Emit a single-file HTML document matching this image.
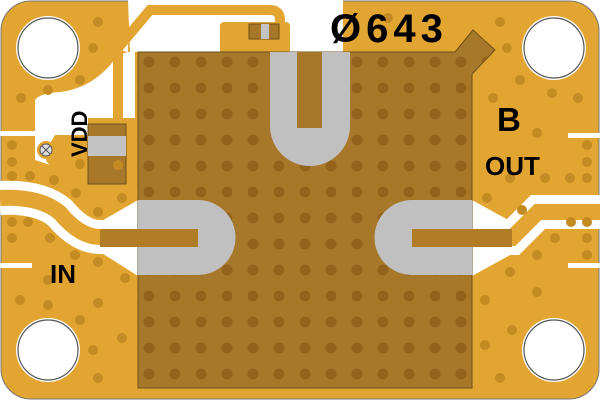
<!DOCTYPE html>
<html><head><style>body{margin:0;background:#fff}svg{display:block}</style></head><body>
<svg width="600" height="400" viewBox="0 0 600 400" xmlns="http://www.w3.org/2000/svg">
<defs>
<pattern id="v" x="135" y="50" width="26" height="26" patternUnits="userSpaceOnUse"><circle cx="14" cy="12" r="5.5" fill="#93621b"/></pattern>
</defs>
<rect x="1" y="1" width="598" height="398" rx="30" fill="#e2a532" stroke="#777" stroke-width="1"/>
<path d="M128 0 L343 0 L343 52 L130 52 Z" fill="#fff"/>
<path d="M128 0 L128 28 Q128 40 118 50 L128 52 Z" fill="#fff"/>
<path d="M35 100 Q40 93 60 92 Q95 88 118 55 L128 52 L135 52 L135 118 L88 118 L88 135 L55 135 Q40 160 50 165 L35 160 Z" fill="#fff"/>
<rect x="0" y="131" width="36" height="5" fill="#fff"/>
<path d="M118 120 L118 48 L150 10 L270 10 Q280 10 280 20 L280 30" fill="none" stroke="#e2a532" stroke-width="10"/>
<rect x="220" y="22" width="70" height="32" rx="4" fill="#e2a532"/>
<rect x="249" y="24" width="30" height="15" fill="#a8782a" stroke="#6e5018" stroke-width="1"/>
<rect x="261" y="24" width="8" height="15" fill="#c3c3c3"/>
<path d="M40 150 L60 135 L70 135 L52 158 Z" fill="#e2a532"/>
<circle cx="46" cy="150" r="9" fill="#e2a532"/>
<circle cx="46" cy="150" r="6" fill="#ddd" stroke="#555" stroke-width="1"/>
<path d="M42 146 L50 154 M50 146 L42 154" stroke="#555" stroke-width="1"/>
<rect x="88" y="124" width="38" height="60" fill="#a8782a" stroke="#6e5018" stroke-width="1"/>
<rect x="88" y="136" width="38" height="20" fill="#c3c3c3"/>
<g fill="#fff"><circle cx="48" cy="48" r="32"/><circle cx="554" cy="48" r="32"/><circle cx="48" cy="350" r="32"/><circle cx="554" cy="350" r="32"/></g>
<g fill="#fff" stroke="#555" stroke-width="1.2">
<circle cx="48" cy="48" r="30"/><circle cx="554" cy="48" r="30"/>
<circle cx="48" cy="350" r="30"/><circle cx="554" cy="350" r="30"/></g>
<path d="M0 198 Q40 196 60 213 Q80 237 100 237 L140 237" fill="none" stroke="#fff" stroke-width="34"/>
<polygon points="138,200 100,222 100,252 138,276" fill="#fff"/>
<path d="M0 198 Q40 196 60 213 Q80 237 100 237 L140 237" fill="none" stroke="#e2a532" stroke-width="16"/>
<rect x="0" y="263" width="32" height="5" fill="#fff"/>
<path d="M472 238 L512 238 L538 212 L600 212" fill="none" stroke="#fff" stroke-width="34"/>
<polygon points="472,200 512,222 512,254 472,276" fill="#fff"/>
<path d="M472 238 L512 238 L538 212 L600 212" fill="none" stroke="#e2a532" stroke-width="16"/>
<rect x="568" y="133" width="32" height="5" fill="#fff"/>
<rect x="568" y="263" width="32" height="5" fill="#fff"/>
<path d="M138 52 L455 52 L473 30 L495 50 L472 74 L472 388 L138 388 Z" fill="#a8782a" stroke="#6e5018" stroke-width="1"/>
<path d="M138 52 L455 52 L473 30 L495 50 L472 74 L472 388 L138 388 Z" fill="url(#v)"/>
<path d="M270 52 L350 52 L350 126 A40 40 0 0 1 270 126 Z" fill="#c0c0c0"/>
<rect x="297" y="52" width="25" height="76" fill="#a8782a"/>
<path d="M138 200 L198 200 A37.5 37.5 0 0 1 198 275 L138 275 Z" fill="#c0c0c0"/>
<rect x="100" y="229" width="98" height="18" fill="#b07c26"/>
<path d="M472 200 L412 200 A37.5 37.5 0 0 0 412 275 L472 275 Z" fill="#c0c0c0"/>
<rect x="412" y="229" width="100" height="18" fill="#b07c26"/>
<g fill="#c48b22">
<circle cx="98" cy="22" r="5"/><circle cx="93" cy="48" r="5"/><circle cx="80" cy="80" r="5"/><circle cx="48" cy="90" r="5"/><circle cx="21" cy="98" r="5"/>
<circle cx="12" cy="145" r="5"/><circle cx="12" cy="162" r="5"/><circle cx="12" cy="176" r="5"/><circle cx="30" cy="176" r="5"/><circle cx="54" cy="180" r="5"/><circle cx="80" cy="164" r="5"/><circle cx="118" cy="165" r="5"/><circle cx="76" cy="193" r="5"/><circle cx="122" cy="198" r="5"/><circle cx="98" cy="212" r="5"/>
<circle cx="12" cy="222" r="5"/><circle cx="28" cy="222" r="5"/><circle cx="12" cy="238" r="5"/><circle cx="50" cy="238" r="5"/><circle cx="75" cy="255" r="5"/><circle cx="98" cy="262" r="5"/><circle cx="125" cy="278" r="5"/><circle cx="48" cy="280" r="5"/><circle cx="20" cy="300" r="5"/><circle cx="48" cy="305" r="5"/><circle cx="98" cy="303" r="5"/><circle cx="80" cy="320" r="5"/><circle cx="122" cy="338" r="5"/><circle cx="93" cy="350" r="5"/><circle cx="98" cy="378" r="5"/>
<circle cx="388" cy="18" r="5"/><circle cx="500" cy="22" r="5"/><circle cx="507" cy="48" r="5"/><circle cx="520" cy="80" r="5"/><circle cx="493" cy="98" r="5"/><circle cx="552" cy="93" r="5"/><circle cx="578" cy="98" r="5"/><circle cx="537" cy="133" r="5"/><circle cx="587" cy="145" r="5"/><circle cx="587" cy="162" r="5"/><circle cx="587" cy="178" r="5"/><circle cx="570" cy="178" r="5"/><circle cx="545" cy="178" r="5"/><circle cx="510" cy="178" r="5"/><circle cx="487" cy="198" r="5"/><circle cx="522" cy="210" r="5"/>
<circle cx="571" cy="222" r="5"/><circle cx="587" cy="222" r="5"/><circle cx="587" cy="238" r="5"/><circle cx="555" cy="238" r="5"/><circle cx="537" cy="255" r="5"/><circle cx="587" cy="255" r="5"/><circle cx="510" cy="272" r="5"/><circle cx="537" cy="292" r="5"/><circle cx="485" cy="300" r="5"/><circle cx="512" cy="330" r="5"/><circle cx="485" cy="345" r="5"/><circle cx="500" cy="378" r="5"/>
</g>
<g font-family="Liberation Sans, sans-serif" font-weight="bold" fill="#000">
<text x="330" y="42" font-size="40" letter-spacing="5">Ø643</text>
<text x="497" y="131" font-size="33">B</text>
<text x="485" y="175" font-size="26">OUT</text>
<text x="50" y="283" font-size="26">IN</text>
<text transform="translate(87,157) rotate(-90)" font-size="22">VDD</text>
</g>
</svg>
</body></html>
